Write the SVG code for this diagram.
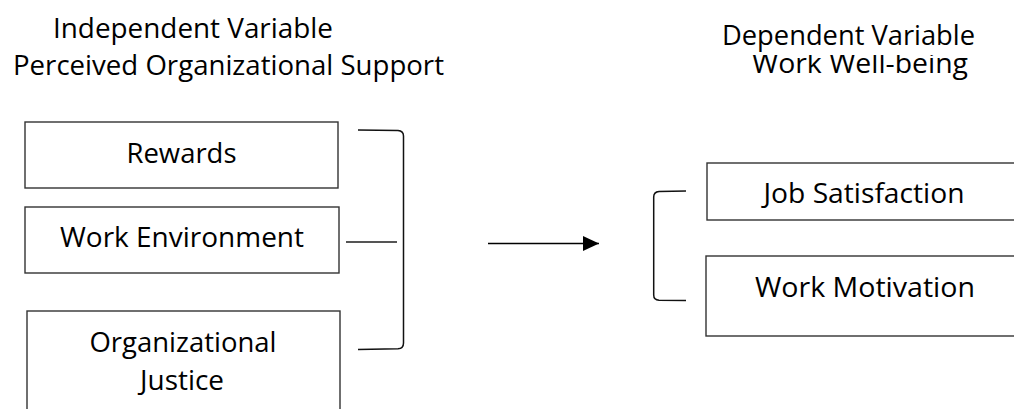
<svg xmlns="http://www.w3.org/2000/svg" width="1014" height="409" viewBox="0 0 1014 409">
<style>
text{font-family:"Open Sans","Noto Sans","DejaVu Sans",sans-serif;font-size:28px;fill:#000}
.box{fill:#fff;stroke:#333;stroke-width:1.4}
.br{fill:none;stroke:#111;stroke-width:1.5}
.ln{fill:none;stroke:#555;stroke-width:2}
</style>
<defs>
<marker id="ah" markerUnits="userSpaceOnUse" markerWidth="16" markerHeight="16" refX="16" refY="7.5" orient="auto" viewBox="0 0 16 15">
<path d="M0,0 L16,7.5 L0,15 Z" fill="#000"/>
</marker>
<clipPath id="wclip"><rect x="700" y="55" width="314" height="40"/></clipPath>
</defs>
<g id="titles">
<text x="53" y="38" textLength="280" lengthAdjust="spacingAndGlyphs">Independent Variable</text>
<text x="13" y="75" textLength="431" lengthAdjust="spacingAndGlyphs">Perceived Organizational Support</text>
<text x="722" y="45" textLength="253" lengthAdjust="spacingAndGlyphs">Dependent Variable</text>
<text x="752" y="73" textLength="216" lengthAdjust="spacingAndGlyphs" clip-path="url(#wclip)">Work Well-being</text>
</g>
<g id="rewards">
<rect class="box" x="25" y="122" width="313" height="66"/>
<text x="181.5" y="163" text-anchor="middle" textLength="110" lengthAdjust="spacingAndGlyphs">Rewards</text>
</g>
<g id="work-environment">
<rect class="box" x="25" y="207" width="314" height="66"/>
<text x="182" y="247" text-anchor="middle" textLength="244" lengthAdjust="spacingAndGlyphs">Work Environment</text>
</g>
<g id="organizational-justice">
<rect class="box" x="27" y="311" width="313" height="110"/>
<text x="183" y="352" text-anchor="middle" textLength="187" lengthAdjust="spacingAndGlyphs">Organizational</text>
<text x="182" y="390" text-anchor="middle" textLength="84" lengthAdjust="spacingAndGlyphs">Justice</text>
</g>
<g id="job-satisfaction">
<rect class="box" x="707" y="163" width="320" height="57"/>
<text x="864" y="203" text-anchor="middle" textLength="201" lengthAdjust="spacingAndGlyphs">Job Satisfaction</text>
</g>
<g id="work-motivation">
<rect class="box" x="706" y="256" width="320" height="80"/>
<text x="865" y="297" text-anchor="middle" textLength="220" lengthAdjust="spacingAndGlyphs">Work Motivation</text>
</g>
<g id="connectors">
<path class="br" d="M358,130 L398,130.5 Q403.5,131 403.5,136 L403.5,343 Q403.5,348.5 398,348.8 L358,349.5"/>
<line class="ln" x1="346" y1="242" x2="397" y2="242"/>
<line x1="488" y1="243.5" x2="599" y2="243.5" stroke="#000" stroke-width="1.5" marker-end="url(#ah)"/>
<path class="br" d="M686,191 L659,191.5 Q653.7,192 653.7,197 L653.7,295 Q653.7,300 659,300.2 L686,300.5"/>
</g>
</svg>
